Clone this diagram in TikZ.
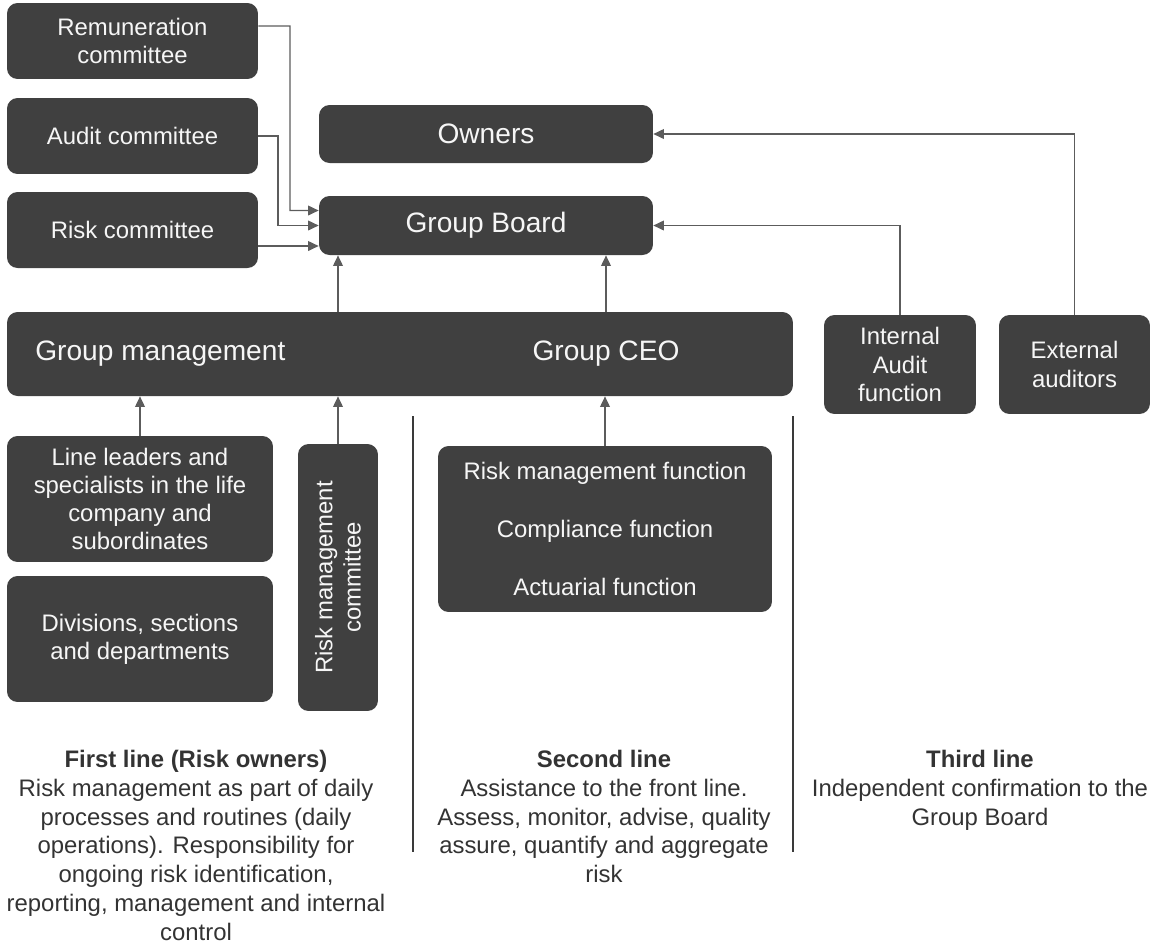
\documentclass[tikz,border=0pt]{standalone}
\usepackage{fontspec}
\setmainfont{Liberation Sans}
\usetikzlibrary{arrows.meta,positioning}
\definecolor{boxfill}{RGB}{64,64,64}
\definecolor{boxtext}{RGB}{246,246,246}
\definecolor{arrowgray}{RGB}{92,92,92}
\definecolor{linedark}{RGB}{58,58,58}
\definecolor{captiongray}{RGB}{51,51,51}

\begin{document}
\begin{tikzpicture}[
    x=0.02cm, y=-0.02cm,
    >={Triangle[length=6pt, width=5.5pt]},
    box/.style={fill=boxfill, rounded corners=6pt, text=boxtext, align=center, inner sep=0pt, font=\fontsize{13.6}{16}\selectfont},
    bigbox/.style={box, font=\fontsize{16}{19}\selectfont},
    bigtext/.style={text=boxtext, inner sep=0pt, font=\fontsize{16}{19}\selectfont},
    link/.style={arrowgray, line width=0.8pt, ->},
    sepline/.style={linedark, line width=1.2pt},
    captiontxt/.style={text=captiongray, align=center, inner sep=0pt, anchor=north, font=\fontsize{13.6}{16.4}\selectfont}
]

% Page
\useasboundingbox (0,0) rectangle (1150,944);

% Committees (left column)
\node[box, minimum width=5.02cm, minimum height=1.52cm] (rem) at (132.5,41) {Remuneration\\committee};
\node[box, minimum width=5.02cm, minimum height=1.52cm] (aud) at (132.5,136) {Audit committee};
\node[box, minimum width=5.02cm, minimum height=1.52cm] (risk) at (132.5,230) {Risk committee};

% Owners & Group Board
\node[bigbox, minimum width=6.68cm, minimum height=1.16cm] (owners) at (486,134) {Owners};
\node[bigbox, minimum width=6.68cm, minimum height=1.18cm] (board) at (486,225.5) {Group Board};

% Group management / Group CEO
\node[bigbox, minimum width=15.72cm, minimum height=1.68cm] (mgmt) at (400,354) {};
\node[bigtext, anchor=west] (gm) at (35,354) {Group management};
\node[bigtext] (ceo) at (606,354) {Group CEO};

% Audit
\node[box, minimum width=3.04cm, minimum height=1.98cm] (ia) at (900,364.5) {Internal\\Audit\\function};
\node[box, minimum width=3.02cm, minimum height=1.98cm] (ea) at (1074.5,364.5) {External\\auditors};

% First line boxes
\node[box, minimum width=5.32cm, minimum height=2.52cm] (lead) at (140,499) {Line leaders and\\specialists in the life\\company and\\subordinates};
\node[box, minimum width=5.32cm, minimum height=2.52cm] (div) at (140,639) {Divisions, sections\\and departments};
\node[box, rotate=90, minimum width=5.34cm, minimum height=1.6cm] (rmc) at (338,577.5) {Risk management\\committee};

% Second line box
\node[box, minimum width=6.68cm, minimum height=3.32cm] (fun) at (605,529) {Risk management function\\[16.9pt]Compliance function\\[16.9pt]Actuarial function};

% Connectors to Group Board
\draw[link] ([yshift=0.3cm]rem.east) -| (290,210.5) -- ([yshift=0.3cm]board.west);
\draw[link] (aud.east) -| (278,225.5) -- (board.west);
\draw[link] (risk.east |- 0,246) -- (board.west |- 0,246);
\draw[link] (mgmt.north -| 338,0) -- (board.south -| 338,0);
\draw[link] (mgmt.north -| ceo) -- (board.south -| ceo);
\draw[link] (ia.north) |- (board.east);
\draw[link] (ea.north) |- (owners.east);

% Connectors to management
\draw[link] (lead.north) -- (lead.north |- mgmt.south);
\draw[link] (rmc.east) -- (rmc.east |- mgmt.south);
\draw[link] (fun.north) -- (fun.north |- mgmt.south);

% Lines of defence
\draw[sepline] (413,416) -- (413,852);
\draw[sepline] (793,416) -- (793,852);

\node[captiontxt] (first) at (196,747) {\strut\textbf{First line (Risk owners)}\\Risk management as part of daily\\processes and routines (daily\\operations). Responsibility for\\ongoing risk identification,\\reporting, management and internal\\control};
\node[captiontxt] (second) at (604,747) {\strut\textbf{Second line}\\Assistance to the front line.\\Assess, monitor, advise, quality\\assure, quantify and aggregate\\risk};
\node[captiontxt] (third) at (980,747) {\strut\textbf{Third line}\\Independent confirmation to the\\Group Board};

\end{tikzpicture}
\end{document}
